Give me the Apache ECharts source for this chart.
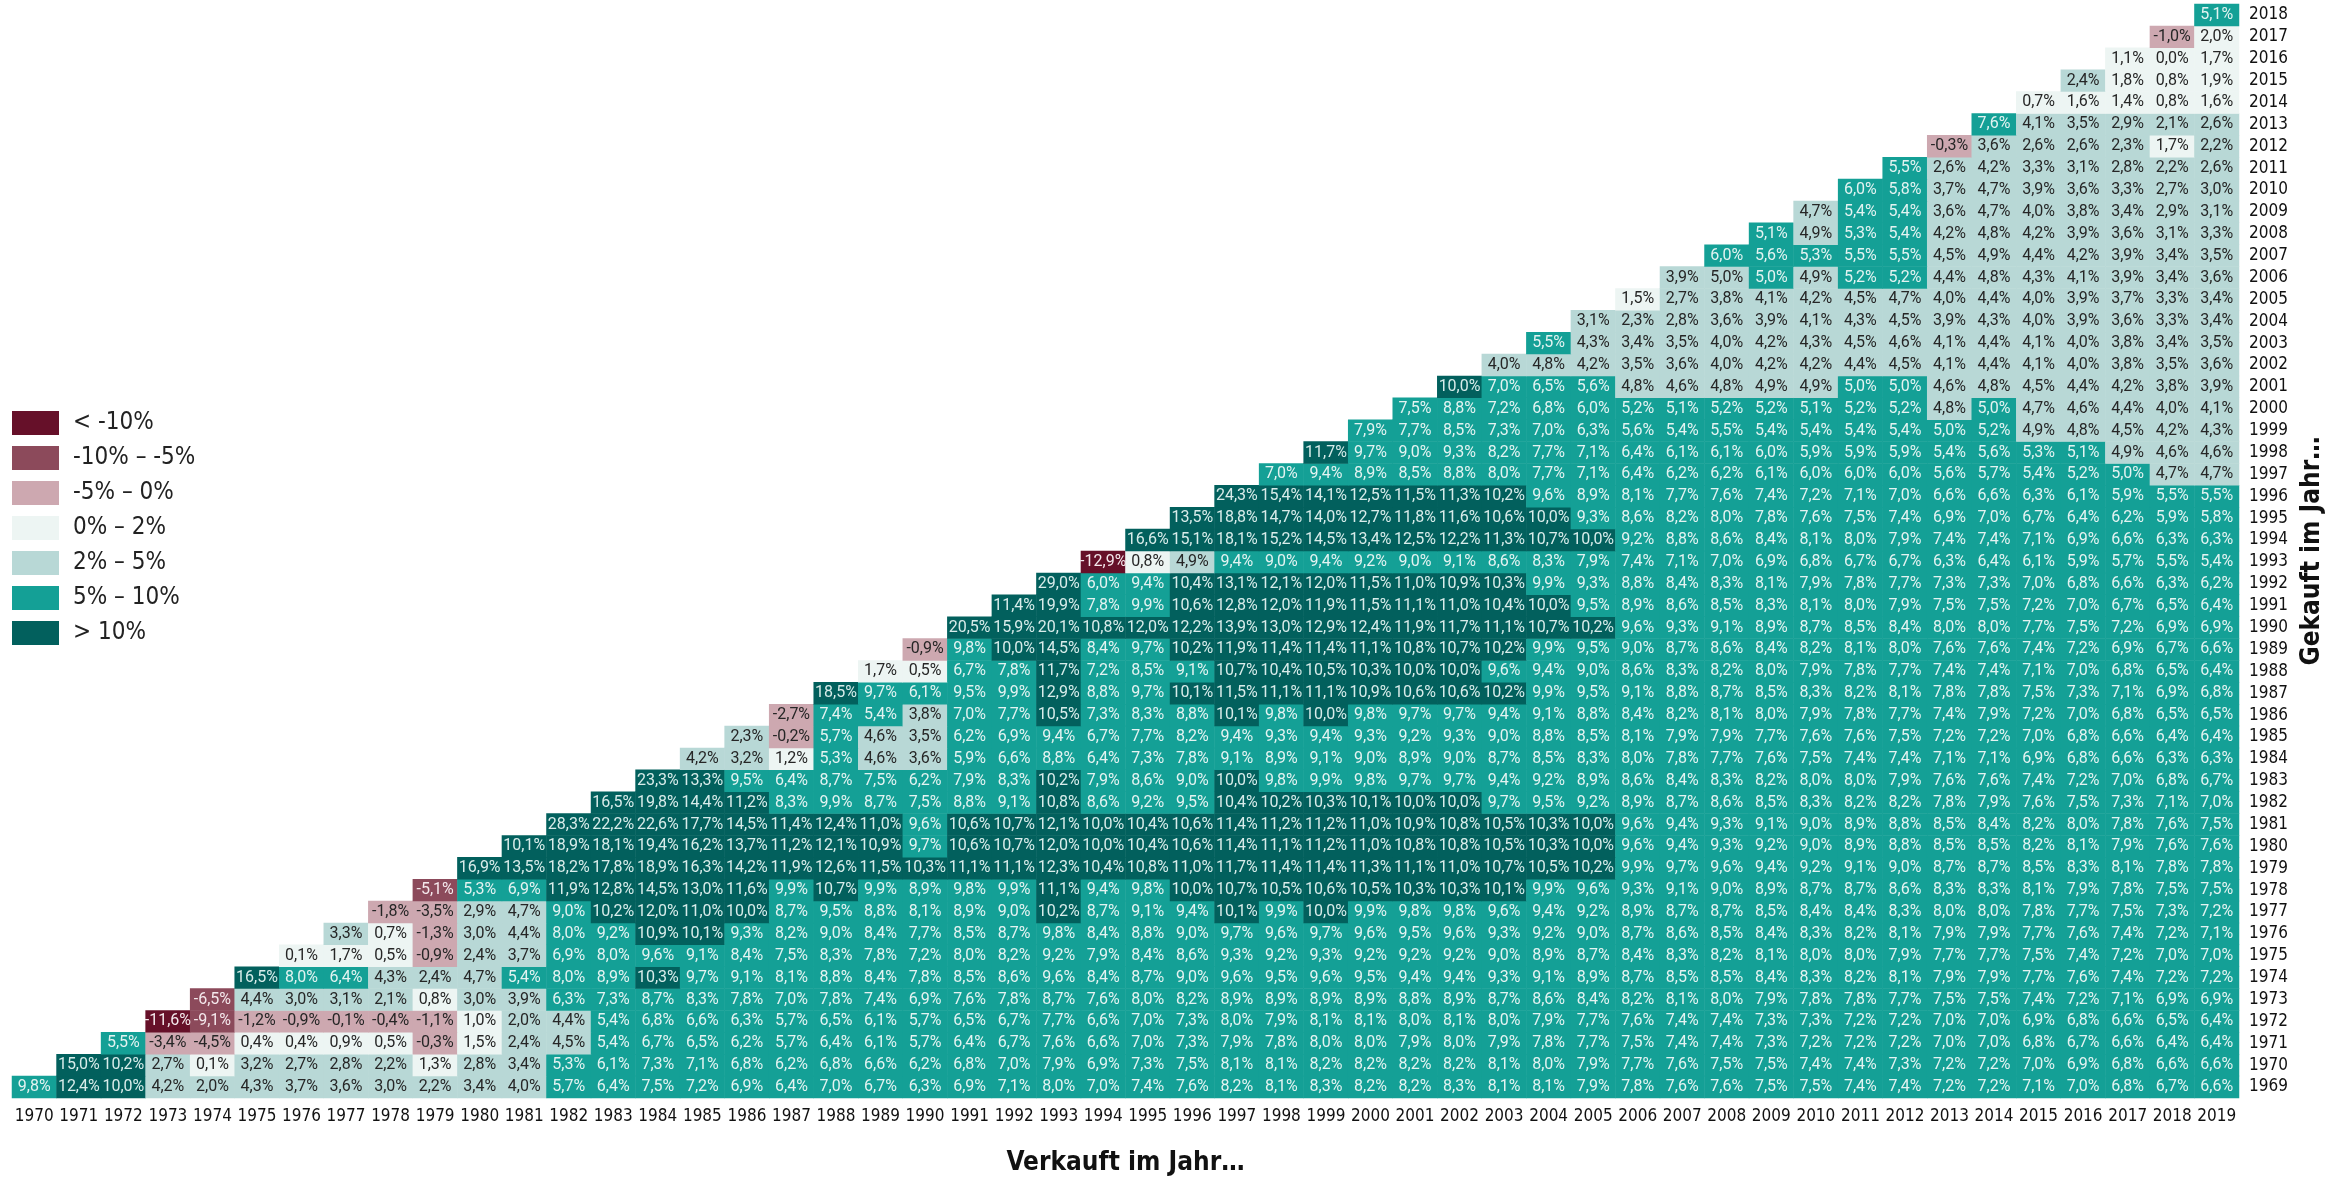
<!DOCTYPE html>
<html>
<head>
<meta charset="utf-8">
<title>Renditedreieck</title>
<script src="https://cdn.jsdelivr.net/npm/echarts@6/dist/echarts.min.js"></script>
<style>
  html, body { margin: 0; padding: 0; background: #fff; }
  #chart { width: 2333px; height: 1181px; }
</style>
</head>
<body>
<div id="chart"></div>
<script>
// x axis: year sold, y axis: year bought
const sellYears = ['1970', '1971', '1972', '1973', '1974', '1975', '1976', '1977', '1978', '1979',
  '1980', '1981', '1982', '1983', '1984', '1985', '1986', '1987', '1988', '1989',
  '1990', '1991', '1992', '1993', '1994', '1995', '1996', '1997', '1998', '1999',
  '2000', '2001', '2002', '2003', '2004', '2005', '2006', '2007', '2008', '2009',
  '2010', '2011', '2012', '2013', '2014', '2015', '2016', '2017', '2018', '2019']
const buyYears = ['1969', '1970', '1971', '1972', '1973', '1974', '1975', '1976', '1977', '1978',
  '1979', '1980', '1981', '1982', '1983', '1984', '1985', '1986', '1987', '1988',
  '1989', '1990', '1991', '1992', '1993', '1994', '1995', '1996', '1997', '1998',
  '1999', '2000', '2001', '2002', '2003', '2004', '2005', '2006', '2007', '2008',
  '2009', '2010', '2011', '2012', '2013', '2014', '2015', '2016', '2017', '2018']

// Rendite p.a. in %, one row per year bought, first value = sold in the following year
const returns1960s = [
  [9.8, 12.4, 10.0, 4.2, 2.0, 4.3, 3.7, 3.6, 3.0, 2.2, 3.4, 4.0, 5.7, 6.4, 7.5, 7.2, 6.9, 6.4, 7.0, 6.7, 6.3, 6.9, 7.1, 8.0, 7.0, 7.4, 7.6, 8.2, 8.1, 8.3, 8.2, 8.2, 8.3, 8.1, 8.1, 7.9, 7.8, 7.6, 7.6, 7.5, 7.5, 7.4, 7.4, 7.2, 7.2, 7.1, 7.0, 6.8, 6.7, 6.6]
]
const returns1970s = [
  [15.0, 10.2, 2.7, 0.1, 3.2, 2.7, 2.8, 2.2, 1.3, 2.8, 3.4, 5.3, 6.1, 7.3, 7.1, 6.8, 6.2, 6.8, 6.6, 6.2, 6.8, 7.0, 7.9, 6.9, 7.3, 7.5, 8.1, 8.1, 8.2, 8.2, 8.2, 8.2, 8.1, 8.0, 7.9, 7.7, 7.6, 7.5, 7.5, 7.4, 7.4, 7.3, 7.2, 7.2, 7.0, 6.9, 6.8, 6.6, 6.6],
  [5.5, -3.4, -4.5, 0.4, 0.4, 0.9, 0.5, -0.3, 1.5, 2.4, 4.5, 5.4, 6.7, 6.5, 6.2, 5.7, 6.4, 6.1, 5.7, 6.4, 6.7, 7.6, 6.6, 7.0, 7.3, 7.9, 7.8, 8.0, 8.0, 7.9, 8.0, 7.9, 7.8, 7.7, 7.5, 7.4, 7.4, 7.3, 7.2, 7.2, 7.2, 7.0, 7.0, 6.8, 6.7, 6.6, 6.4, 6.4],
  [-11.6, -9.1, -1.2, -0.9, -0.1, -0.4, -1.1, 1.0, 2.0, 4.4, 5.4, 6.8, 6.6, 6.3, 5.7, 6.5, 6.1, 5.7, 6.5, 6.7, 7.7, 6.6, 7.0, 7.3, 8.0, 7.9, 8.1, 8.1, 8.0, 8.1, 8.0, 7.9, 7.7, 7.6, 7.4, 7.4, 7.3, 7.3, 7.2, 7.2, 7.0, 7.0, 6.9, 6.8, 6.6, 6.5, 6.4],
  [-6.5, 4.4, 3.0, 3.1, 2.1, 0.8, 3.0, 3.9, 6.3, 7.3, 8.7, 8.3, 7.8, 7.0, 7.8, 7.4, 6.9, 7.6, 7.8, 8.7, 7.6, 8.0, 8.2, 8.9, 8.9, 8.9, 8.9, 8.8, 8.9, 8.7, 8.6, 8.4, 8.2, 8.1, 8.0, 7.9, 7.8, 7.8, 7.7, 7.5, 7.5, 7.4, 7.2, 7.1, 6.9, 6.9],
  [16.5, 8.0, 6.4, 4.3, 2.4, 4.7, 5.4, 8.0, 8.9, 10.3, 9.7, 9.1, 8.1, 8.8, 8.4, 7.8, 8.5, 8.6, 9.6, 8.4, 8.7, 9.0, 9.6, 9.5, 9.6, 9.5, 9.4, 9.4, 9.3, 9.1, 8.9, 8.7, 8.5, 8.5, 8.4, 8.3, 8.2, 8.1, 7.9, 7.9, 7.7, 7.6, 7.4, 7.2, 7.2],
  [0.1, 1.7, 0.5, -0.9, 2.4, 3.7, 6.9, 8.0, 9.6, 9.1, 8.4, 7.5, 8.3, 7.8, 7.2, 8.0, 8.2, 9.2, 7.9, 8.4, 8.6, 9.3, 9.2, 9.3, 9.2, 9.2, 9.2, 9.0, 8.9, 8.7, 8.4, 8.3, 8.2, 8.1, 8.0, 8.0, 7.9, 7.7, 7.7, 7.5, 7.4, 7.2, 7.0, 7.0],
  [3.3, 0.7, -1.3, 3.0, 4.4, 8.0, 9.2, 10.9, 10.1, 9.3, 8.2, 9.0, 8.4, 7.7, 8.5, 8.7, 9.8, 8.4, 8.8, 9.0, 9.7, 9.6, 9.7, 9.6, 9.5, 9.6, 9.3, 9.2, 9.0, 8.7, 8.6, 8.5, 8.4, 8.3, 8.2, 8.1, 7.9, 7.9, 7.7, 7.6, 7.4, 7.2, 7.1],
  [-1.8, -3.5, 2.9, 4.7, 9.0, 10.2, 12.0, 11.0, 10.0, 8.7, 9.5, 8.8, 8.1, 8.9, 9.0, 10.2, 8.7, 9.1, 9.4, 10.1, 9.9, 10.0, 9.9, 9.8, 9.8, 9.6, 9.4, 9.2, 8.9, 8.7, 8.7, 8.5, 8.4, 8.4, 8.3, 8.0, 8.0, 7.8, 7.7, 7.5, 7.3, 7.2],
  [-5.1, 5.3, 6.9, 11.9, 12.8, 14.5, 13.0, 11.6, 9.9, 10.7, 9.9, 8.9, 9.8, 9.9, 11.1, 9.4, 9.8, 10.0, 10.7, 10.5, 10.6, 10.5, 10.3, 10.3, 10.1, 9.9, 9.6, 9.3, 9.1, 9.0, 8.9, 8.7, 8.7, 8.6, 8.3, 8.3, 8.1, 7.9, 7.8, 7.5, 7.5],
  [16.9, 13.5, 18.2, 17.8, 18.9, 16.3, 14.2, 11.9, 12.6, 11.5, 10.3, 11.1, 11.1, 12.3, 10.4, 10.8, 11.0, 11.7, 11.4, 11.4, 11.3, 11.1, 11.0, 10.7, 10.5, 10.2, 9.9, 9.7, 9.6, 9.4, 9.2, 9.1, 9.0, 8.7, 8.7, 8.5, 8.3, 8.1, 7.8, 7.8]
]
const returns1980s = [
  [10.1, 18.9, 18.1, 19.4, 16.2, 13.7, 11.2, 12.1, 10.9, 9.7, 10.6, 10.7, 12.0, 10.0, 10.4, 10.6, 11.4, 11.1, 11.2, 11.0, 10.8, 10.8, 10.5, 10.3, 10.0, 9.6, 9.4, 9.3, 9.2, 9.0, 8.9, 8.8, 8.5, 8.5, 8.2, 8.1, 7.9, 7.6, 7.6],
  [28.3, 22.2, 22.6, 17.7, 14.5, 11.4, 12.4, 11.0, 9.6, 10.6, 10.7, 12.1, 10.0, 10.4, 10.6, 11.4, 11.2, 11.2, 11.0, 10.9, 10.8, 10.5, 10.3, 10.0, 9.6, 9.4, 9.3, 9.1, 9.0, 8.9, 8.8, 8.5, 8.4, 8.2, 8.0, 7.8, 7.6, 7.5],
  [16.5, 19.8, 14.4, 11.2, 8.3, 9.9, 8.7, 7.5, 8.8, 9.1, 10.8, 8.6, 9.2, 9.5, 10.4, 10.2, 10.3, 10.1, 10.0, 10.0, 9.7, 9.5, 9.2, 8.9, 8.7, 8.6, 8.5, 8.3, 8.2, 8.2, 7.8, 7.9, 7.6, 7.5, 7.3, 7.1, 7.0],
  [23.3, 13.3, 9.5, 6.4, 8.7, 7.5, 6.2, 7.9, 8.3, 10.2, 7.9, 8.6, 9.0, 10.0, 9.8, 9.9, 9.8, 9.7, 9.7, 9.4, 9.2, 8.9, 8.6, 8.4, 8.3, 8.2, 8.0, 8.0, 7.9, 7.6, 7.6, 7.4, 7.2, 7.0, 6.8, 6.7],
  [4.2, 3.2, 1.2, 5.3, 4.6, 3.6, 5.9, 6.6, 8.8, 6.4, 7.3, 7.8, 9.1, 8.9, 9.1, 9.0, 8.9, 9.0, 8.7, 8.5, 8.3, 8.0, 7.8, 7.7, 7.6, 7.5, 7.4, 7.4, 7.1, 7.1, 6.9, 6.8, 6.6, 6.3, 6.3],
  [2.3, -0.2, 5.7, 4.6, 3.5, 6.2, 6.9, 9.4, 6.7, 7.7, 8.2, 9.4, 9.3, 9.4, 9.3, 9.2, 9.3, 9.0, 8.8, 8.5, 8.1, 7.9, 7.9, 7.7, 7.6, 7.6, 7.5, 7.2, 7.2, 7.0, 6.8, 6.6, 6.4, 6.4],
  [-2.7, 7.4, 5.4, 3.8, 7.0, 7.7, 10.5, 7.3, 8.3, 8.8, 10.1, 9.8, 10.0, 9.8, 9.7, 9.7, 9.4, 9.1, 8.8, 8.4, 8.2, 8.1, 8.0, 7.9, 7.8, 7.7, 7.4, 7.9, 7.2, 7.0, 6.8, 6.5, 6.5],
  [18.5, 9.7, 6.1, 9.5, 9.9, 12.9, 8.8, 9.7, 10.1, 11.5, 11.1, 11.1, 10.9, 10.6, 10.6, 10.2, 9.9, 9.5, 9.1, 8.8, 8.7, 8.5, 8.3, 8.2, 8.1, 7.8, 7.8, 7.5, 7.3, 7.1, 6.9, 6.8],
  [1.7, 0.5, 6.7, 7.8, 11.7, 7.2, 8.5, 9.1, 10.7, 10.4, 10.5, 10.3, 10.0, 10.0, 9.6, 9.4, 9.0, 8.6, 8.3, 8.2, 8.0, 7.9, 7.8, 7.7, 7.4, 7.4, 7.1, 7.0, 6.8, 6.5, 6.4],
  [-0.9, 9.8, 10.0, 14.5, 8.4, 9.7, 10.2, 11.9, 11.4, 11.4, 11.1, 10.8, 10.7, 10.2, 9.9, 9.5, 9.0, 8.7, 8.6, 8.4, 8.2, 8.1, 8.0, 7.6, 7.6, 7.4, 7.2, 6.9, 6.7, 6.6]
]
const returns1990s = [
  [20.5, 15.9, 20.1, 10.8, 12.0, 12.2, 13.9, 13.0, 12.9, 12.4, 11.9, 11.7, 11.1, 10.7, 10.2, 9.6, 9.3, 9.1, 8.9, 8.7, 8.5, 8.4, 8.0, 8.0, 7.7, 7.5, 7.2, 6.9, 6.9],
  [11.4, 19.9, 7.8, 9.9, 10.6, 12.8, 12.0, 11.9, 11.5, 11.1, 11.0, 10.4, 10.0, 9.5, 8.9, 8.6, 8.5, 8.3, 8.1, 8.0, 7.9, 7.5, 7.5, 7.2, 7.0, 6.7, 6.5, 6.4],
  [29.0, 6.0, 9.4, 10.4, 13.1, 12.1, 12.0, 11.5, 11.0, 10.9, 10.3, 9.9, 9.3, 8.8, 8.4, 8.3, 8.1, 7.9, 7.8, 7.7, 7.3, 7.3, 7.0, 6.8, 6.6, 6.3, 6.2],
  [-12.9, 0.8, 4.9, 9.4, 9.0, 9.4, 9.2, 9.0, 9.1, 8.6, 8.3, 7.9, 7.4, 7.1, 7.0, 6.9, 6.8, 6.7, 6.7, 6.3, 6.4, 6.1, 5.9, 5.7, 5.5, 5.4],
  [16.6, 15.1, 18.1, 15.2, 14.5, 13.4, 12.5, 12.2, 11.3, 10.7, 10.0, 9.2, 8.8, 8.6, 8.4, 8.1, 8.0, 7.9, 7.4, 7.4, 7.1, 6.9, 6.6, 6.3, 6.3],
  [13.5, 18.8, 14.7, 14.0, 12.7, 11.8, 11.6, 10.6, 10.0, 9.3, 8.6, 8.2, 8.0, 7.8, 7.6, 7.5, 7.4, 6.9, 7.0, 6.7, 6.4, 6.2, 5.9, 5.8],
  [24.3, 15.4, 14.1, 12.5, 11.5, 11.3, 10.2, 9.6, 8.9, 8.1, 7.7, 7.6, 7.4, 7.2, 7.1, 7.0, 6.6, 6.6, 6.3, 6.1, 5.9, 5.5, 5.5],
  [7.0, 9.4, 8.9, 8.5, 8.8, 8.0, 7.7, 7.1, 6.4, 6.2, 6.2, 6.1, 6.0, 6.0, 6.0, 5.6, 5.7, 5.4, 5.2, 5.0, 4.7, 4.7],
  [11.7, 9.7, 9.0, 9.3, 8.2, 7.7, 7.1, 6.4, 6.1, 6.1, 6.0, 5.9, 5.9, 5.9, 5.4, 5.6, 5.3, 5.1, 4.9, 4.6, 4.6],
  [7.9, 7.7, 8.5, 7.3, 7.0, 6.3, 5.6, 5.4, 5.5, 5.4, 5.4, 5.4, 5.4, 5.0, 5.2, 4.9, 4.8, 4.5, 4.2, 4.3]
]
const returns2000s = [
  [7.5, 8.8, 7.2, 6.8, 6.0, 5.2, 5.1, 5.2, 5.2, 5.1, 5.2, 5.2, 4.8, 5.0, 4.7, 4.6, 4.4, 4.0, 4.1],
  [10.0, 7.0, 6.5, 5.6, 4.8, 4.6, 4.8, 4.9, 4.9, 5.0, 5.0, 4.6, 4.8, 4.5, 4.4, 4.2, 3.8, 3.9],
  [4.0, 4.8, 4.2, 3.5, 3.6, 4.0, 4.2, 4.2, 4.4, 4.5, 4.1, 4.4, 4.1, 4.0, 3.8, 3.5, 3.6],
  [5.5, 4.3, 3.4, 3.5, 4.0, 4.2, 4.3, 4.5, 4.6, 4.1, 4.4, 4.1, 4.0, 3.8, 3.4, 3.5],
  [3.1, 2.3, 2.8, 3.6, 3.9, 4.1, 4.3, 4.5, 3.9, 4.3, 4.0, 3.9, 3.6, 3.3, 3.4],
  [1.5, 2.7, 3.8, 4.1, 4.2, 4.5, 4.7, 4.0, 4.4, 4.0, 3.9, 3.7, 3.3, 3.4],
  // 2006 -> 2008 reads "5,0%" but sits in the 2-5 % class, so just below 5
  [3.9, 4.96, 5.0, 4.9, 5.2, 5.2, 4.4, 4.8, 4.3, 4.1, 3.9, 3.4, 3.6],
  [6.0, 5.6, 5.3, 5.5, 5.5, 4.5, 4.9, 4.4, 4.2, 3.9, 3.4, 3.5],
  [5.1, 4.9, 5.3, 5.4, 4.2, 4.8, 4.2, 3.9, 3.6, 3.1, 3.3],
  [4.7, 5.4, 5.4, 3.6, 4.7, 4.0, 3.8, 3.4, 2.9, 3.1]
]
const returns2010s = [
  [6.0, 5.8, 3.7, 4.7, 3.9, 3.6, 3.3, 2.7, 3.0],
  [5.5, 2.6, 4.2, 3.3, 3.1, 2.8, 2.2, 2.6],
  [-0.3, 3.6, 2.6, 2.6, 2.3, 1.7, 2.2],
  [7.6, 4.1, 3.5, 2.9, 2.1, 2.6],
  [0.7, 1.6, 1.4, 0.8, 1.6],
  [2.4, 1.8, 0.8, 1.9],
  [1.1, 0.0, 1.7],
  // 2017 -> 2019 reads "2,0%" but sits in the 0-2 % class
  [-1.0, 1.96],
  [5.1]
]

const TITLE_FONT = "'Liberation Sans Narrow', 'DejaVu Sans Condensed', 'Roboto', sans-serif"
const CELL_FONT = "'Roboto', 'Liberation Sans', sans-serif"

// colour classes of the legend
const CLASSES = [
  { max: -10, label: '< -10%', color: '#661029', text: '#f4e8ec' },
  { min: -10, max: -5, label: '-10% – -5%', color: '#8c4a5b', text: '#f4e8ec' },
  { min: -5, max: 0, label: '-5% – 0%', color: '#cda8b0', text: '#262626' },
  { min: 0, max: 2, label: '0% – 2%', color: '#edf5f3', text: '#262626' },
  { min: 2, max: 5, label: '2% – 5%', color: '#b8d8d6', text: '#262626' },
  { min: 5, max: 10, label: '5% – 10%', color: '#14a096', text: '#e3f3f1' },
  { min: 10, label: '> 10%', color: '#02605d', text: '#d8ecea' }
]

const classOf = (v) => CLASSES.find(c =>
  (c.min === undefined || v >= c.min) && (c.max === undefined || v < c.max))

const pieces = CLASSES.map(c => {
  const p = { label: c.label, color: c.color }
  if (c.min !== undefined) p.gte = c.min
  if (c.max !== undefined) p.lt = c.max
  return p
})

const allRows = [].concat(returns1960s, returns1970s, returns1980s, returns1990s, returns2000s, returns2010s)
const cells = []
allRows.forEach((row, b) => {
  row.forEach((v, k) => {
    // bought in buyYears[b], sold k+1 years later -> sellYears index b + k
    cells.push({ value: [b + k, b, v], label: { color: classOf(v).text } })
  })
})

const chart = echarts.init(document.getElementById('chart'))

const option = {
  backgroundColor: '#ffffff',
  animation: false,
  grid: { left: 12, right: 93, top: 4, bottom: 63 },
  xAxis: {
    type: 'category',
    data: sellYears,
    position: 'bottom',
    axisLine: { show: false },
    axisTick: { show: false },
    splitArea: { show: false },
    axisLabel: { fontSize: 17, color: '#111', fontFamily: TITLE_FONT, margin: 10, interval: 0 },
    name: 'Verkauft im Jahr…',
    nameLocation: 'middle',
    nameGap: 52,
    nameTextStyle: { fontSize: 26, fontWeight: 'bold', color: '#111', fontFamily: TITLE_FONT }
  },
  yAxis: {
    type: 'category',
    data: buyYears,
    position: 'right',
    axisLine: { show: false },
    axisTick: { show: false },
    splitArea: { show: false },
    axisLabel: { fontSize: 17, color: '#111', fontFamily: TITLE_FONT, margin: 10, interval: 0 },
    name: 'Gekauft im Jahr…',
    nameLocation: 'middle',
    nameRotate: 90,
    nameGap: 60,
    nameTextStyle: { fontSize: 26, fontWeight: 'bold', color: '#111', fontFamily: TITLE_FONT }
  },
  visualMap: {
    type: 'piecewise',
    dimension: 2,
    pieces: pieces,
    orient: 'vertical',
    inverse: true, // lowest class on top, as in the original legend
    left: 12,
    top: 411,
    padding: 0,
    itemWidth: 47,
    itemHeight: 24,
    itemGap: 11,
    textGap: 14,
    itemSymbol: 'rect',
    selectedMode: false,
    hoverLink: false,
    textStyle: { fontSize: 24, color: '#222', fontFamily: TITLE_FONT }
  },
  series: [{
    type: 'heatmap',
    data: cells,
    itemStyle: { borderWidth: 0 },
    label: {
      show: true,
      fontSize: 16,
      fontFamily: CELL_FONT,
      formatter: (p) => p.value[2].toFixed(1).replace('.', ',') + '%'
    },
    labelLayout: { hideOverlap: false },
    emphasis: { disabled: true }
  }]
}

chart.setOption(option)
</script>
</body>
</html>
